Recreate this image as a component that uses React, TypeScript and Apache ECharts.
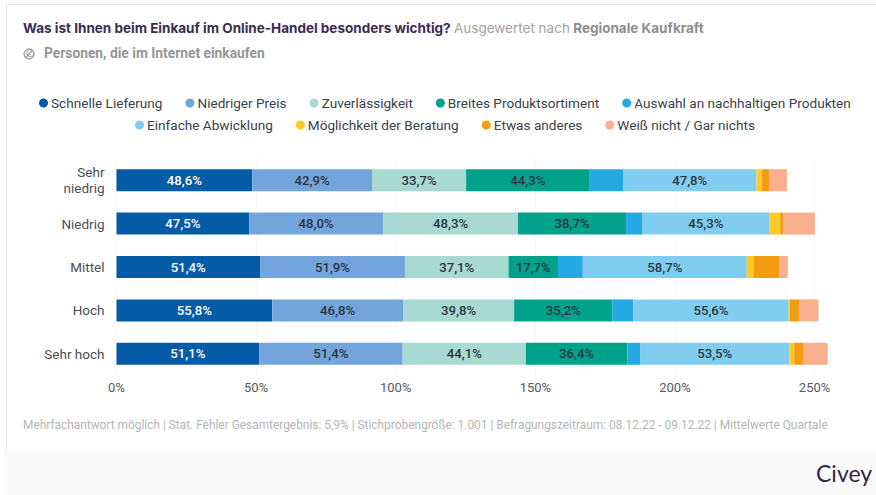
import React, { useEffect, useRef } from "react";
import * as echarts from "echarts";

const categories = ["Sehr\nniedrig", "Niedrig", "Mittel", "Hoch", "Sehr hoch"];
const seriesNames = [
  "Schnelle Lieferung",
  "Niedriger Preis",
  "Zuverlässigkeit",
  "Breites Produktsortiment",
  "Auswahl an nachhaltigen Produkten",
  "Einfache Abwicklung",
  "Möglichkeit der Beratung",
  "Etwas anderes",
  "Weiß nicht / Gar nichts",
];
const schnelle = [48.6, 47.5, 51.4, 55.8, 51.1];
const preis = [42.9, 48.0, 51.9, 46.8, 51.4];
const zuverlaessig = [33.7, 48.3, 37.1, 39.8, 44.1];
const sortiment = [44.3, 38.7, 17.7, 35.2, 36.4];
const nachhaltig = [11.9, 5.9, 8.9, 7.5, 4.5];
const abwicklung = [47.8, 45.3, 58.7, 55.6, 53.5];
const beratung = [2.0, 4.0, 2.6, 0.5, 1.7];
const anderes = [2.5, 1.1, 9.1, 3.4, 3.4];
const weissNicht = [6.4, 11.3, 3.0, 6.8, 8.6];
const values = [schnelle, preis, zuverlaessig, sortiment, nachhaltig, abwicklung, beratung, anderes, weissNicht];
const colors = ["#045ba6", "#73a4db", "#a8dad2", "#00a28c", "#25a9e3", "#80cdf0", "#ffc928", "#f39c12", "#f9ae8e"];
const footnote =
  "Mehrfachantwort möglich | Stat. Fehler Gesamtergebnis: 5,9% | Stichprobengröße: 1.001 | Befragungszeitraum: 08.12.22 - 09.12.22 | Mittelwerte Quartale";

const legendBase = {
  icon: "circle",
  itemWidth: 9,
  itemHeight: 9,
  itemGap: 23,
  textStyle: { fontFamily: "Roboto", fontSize: 13.6, color: "#3c4248", padding: [0, 0, 0, -2] },
  padding: 0,
};

export default function App() {
  const ref = useRef<HTMLDivElement>(null);
  useEffect(() => {
    const chart = echarts.init(ref.current!, undefined, { renderer: "svg" });
    chart.setOption({
      animation: false,
      backgroundColor: "#ffffff",
      legend: [
        { ...legendBase, data: seriesNames.slice(0, 5), left: 39, top: 96 },
        { ...legendBase, data: seriesNames.slice(5), left: 135, top: 118 },
      ],
      grid: { left: 116.5, right: 876 - 842.5, top: 158.5, bottom: 495 - 375.5 },
      xAxis: {
        type: "value",
        min: 0,
        max: 260,
        interval: 50,
        axisLine: { show: false },
        axisTick: { show: false },
        axisLabel: {
          fontFamily: "Roboto",
          fontSize: 13,
          color: "#555b60",
          margin: 5,
          formatter: (v: number) => (v % 50 === 0 ? `${v}%` : ""),
        },
        splitLine: { show: true, showMaxLine: false, lineStyle: { color: "#eeeeee", type: "dotted" } },
      },
      yAxis: {
        type: "category",
        inverse: true,
        data: categories,
        axisLine: { show: false },
        axisTick: { show: false },
        axisLabel: { fontFamily: "Roboto", fontSize: 13.5, color: "#4a4f54", margin: 12, align: "right", lineHeight: 16 },
      },
      series: seriesNames.map((name, i) => ({
        name,
        type: "bar",
        stack: "total",
        barWidth: 22,
        data: values[i],
        itemStyle: { color: colors[i] },
        label: {
          show: true,
          position: "inside",
          fontFamily: "Roboto",
          fontSize: 13.2,
          fontWeight: 500,
          color: i === 0 ? "#ffffff" : "#2b3640",
          formatter: (p: { value: number }) => (p.value >= 15 ? `${p.value.toFixed(1).replace(".", ",")}%` : ""),
        },
      })),
      graphic: [
        { type: "line", silent: true, shape: { x1: 6.5, y1: 4.5, x2: 876, y2: 4.5 }, style: { stroke: "#e6e6e6", lineWidth: 1 } },
        { type: "line", silent: true, shape: { x1: 6.5, y1: 4.5, x2: 6.5, y2: 450 }, style: { stroke: "#e6e6e6", lineWidth: 1 } },
        { type: "rect", silent: true, shape: { x: 4, y: 450, width: 872, height: 45 }, style: { fill: "#fafafa" } },
        {
          type: "text",
          x: 23,
          y: 21,
          style: {
            text: "{a|Was ist Ihnen beim Einkauf im Online-Handel besonders wichtig?} {b|Ausgewertet nach} {c|Regionale Kaufkraft}",
            rich: {
              a: { fontFamily: "Inter", fontSize: 13.5, fontWeight: 700, fill: "#3b2c52", color: "#3b2c52" },
              b: { fontFamily: "Inter", fontSize: 13.5, fontWeight: 400, fill: "#a3a3a3", color: "#a3a3a3" },
              c: { fontFamily: "Inter", fontSize: 13.5, fontWeight: 700, fill: "#8e8e8e", color: "#8e8e8e" },
            },
          },
        },
        { type: "circle", silent: true, shape: { cx: 29, cy: 54, r: 5 }, style: { fill: "none", stroke: "#9a9a9a", lineWidth: 1.2 } },
        { type: "circle", silent: true, shape: { cx: 30.5, cy: 53, r: 3.5 }, style: { fill: "none", stroke: "#9a9a9a", lineWidth: 1 } },
        { type: "line", silent: true, shape: { x1: 25.5, y1: 58, x2: 32.5, y2: 50 }, style: { stroke: "#9a9a9a", lineWidth: 1.2 } },
        {
          type: "text",
          x: 44,
          y: 46,
          style: { text: "Personen, die im Internet einkaufen", fontFamily: "Roboto", fontSize: 13.8, fontWeight: 700, fill: "#969696" },
        },
        {
          type: "text",
          x: 23,
          y: 419,
          style: { text: footnote, fontFamily: "Roboto", fontSize: 11.9, fill: "#b5b5b5" },
        },
        {
          type: "text",
          x: 816,
          y: 461,
          style: { text: "Civey", fontFamily: "Lato", fontSize: 23, fill: "#33264a" },
        },
      ],
    });
    return () => chart.dispose();
  }, []);
  return <div ref={ref} style={{ position: "absolute", left: 0, top: 0, width: 876, height: 495 }} />;
}
